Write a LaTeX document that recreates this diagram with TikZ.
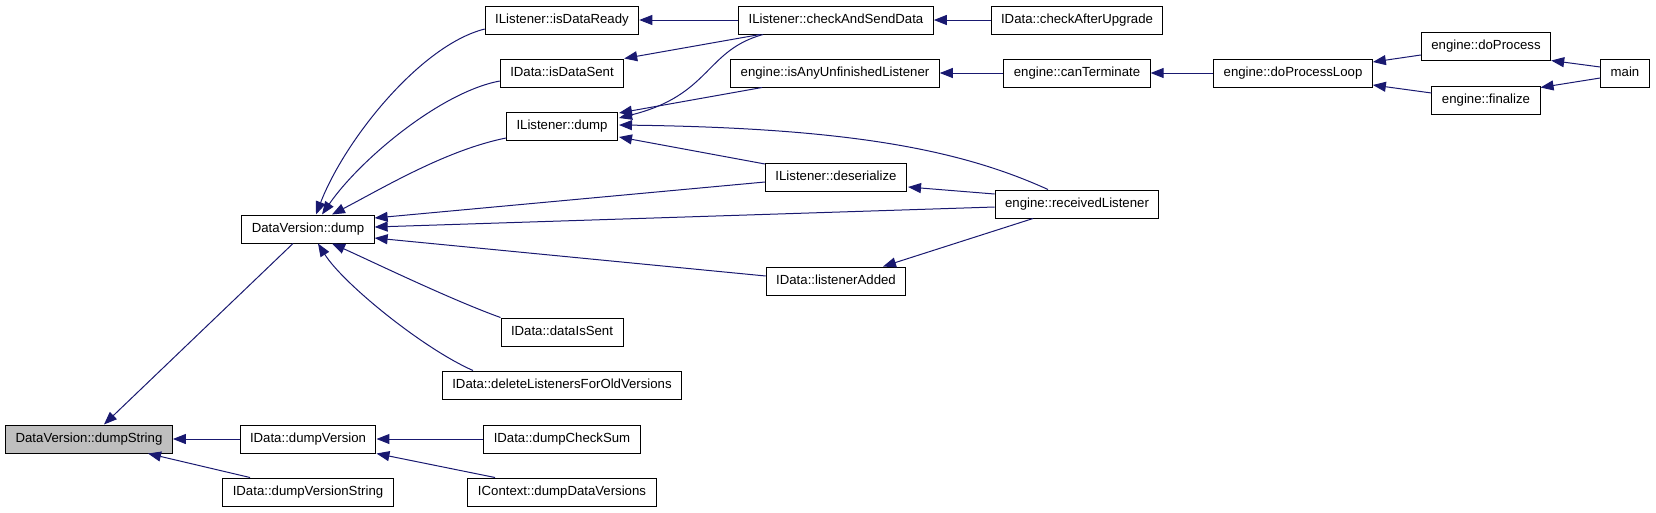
\documentclass[tikz,border=0pt]{standalone}
\usepackage{fontspec}
\setmainfont{Liberation Sans}
\usetikzlibrary{arrows.meta, calc}
\definecolor{edgeblue}{RGB}{25, 25, 112}
\definecolor{rootgray}{RGB}{191, 191, 191}

\begin{document}
\begin{tikzpicture}[
  x=1pt, y=-1pt,
  func/.style={draw=black, line width=1pt, fill=white, minimum height=28pt, inner xsep=10pt, inner ysep=0pt,
    text height=10pt, text depth=3pt, font=\fontsize{13.2}{16}\selectfont},
  root/.style={func, fill=rootgray},
  call/.style={draw=edgeblue, line width=1pt, -{Triangle[length=13pt, width=10pt]}}
]
  \useasboundingbox (0,0) rectangle (1656,512);

  % Callee
  \node[root] (dumpString) at (89,439) {DataVersion::dumpString};

  % Callers
  \node[func] (dvDump) at (308,229) {DataVersion::dump};
  \node[func] (dumpVersion) at (308,439) {IData::dumpVersion};
  \node[func] (dumpVerStr) at (308,492) {IData::dumpVersionString};

  \node[func] (isDataReady) at (562,20) {IListener::isDataReady};
  \node[func] (isDataSent) at (562,73) {IData::isDataSent};
  \node[func] (lDump) at (562,126) {IListener::dump};
  \node[func] (dataIsSent) at (562,332) {IData::dataIsSent};
  \node[func] (deleteOld) at (562,385) {IData::deleteListenersForOldVersions};
  \node[func] (checkSum) at (562,439) {IData::dumpCheckSum};
  \node[func] (ctxDump) at (562,492) {IContext::dumpDataVersions};

  \node[func] (checkSend) at (836,20) {IListener::checkAndSendData};
  \node[func] (unfinished) at (835,73) {engine::isAnyUnfinishedListener};
  \node[func] (deserialize) at (836,177) {IListener::deserialize};
  \node[func] (listenerAdded) at (836,281) {IData::listenerAdded};

  \node[func] (checkUpgrade) at (1077,20) {IData::checkAfterUpgrade};
  \node[func] (canTerminate) at (1077,73) {engine::canTerminate};
  \node[func] (recvListener) at (1077,204) {engine::receivedListener};

  \node[func] (procLoop) at (1293,73) {engine::doProcessLoop};
  \node[func] (doProcess) at (1486,46) {engine::doProcess};
  \node[func] (finalize) at (1486,100) {engine::finalize};
  \node[func] (main) at (1625,73) {main};

  % Calls into dumpString
  \draw[call] ($(dvDump.south)+(-15,0)$) -- ($(dumpString.north)+(15,0)$);
  \draw[call] (dumpVersion.west) -- (dumpString.east);
  \draw[call] ($(dumpVerStr.north)+(-58,0)$) -- ($(dumpString.south)+(59,0)$);

  % Calls into DataVersion::dump
  \draw[call] ($(isDataReady.west)+(0,9)$) .. controls +(-64,16) and +(29,-75) .. ($(dvDump.north)+(8,0)$);
  \draw[call] ($(isDataSent.west)+(0,8)$) .. controls +(-59,11) and +(38,-55) .. ($(dvDump.north)+(14,0)$);
  \draw[call] ($(lDump.west)+(0,12)$) .. controls +(-60,12) and +(50,-26) .. ($(dvDump.north)+(24,0)$);
  \draw[call] ($(deserialize.west)+(0,5)$) -- ($(dvDump.east)+(0,-11)$);
  \draw[call] ($(recvListener.west)+(0,3)$) -- ($(dvDump.east)+(0,-2)$);
  \draw[call] ($(listenerAdded.west)+(0,-5)$) -- ($(dvDump.east)+(0,9)$);
  \draw[call] (dataIsSent.north west) .. controls +(-50,-18) and +(40,18) .. ($(dvDump.south)+(24,0)$);
  \draw[call] ($(deleteOld.north)+(-89,0)$) .. controls +(-50,-22) and +(25,40) .. ($(dvDump.south)+(10,0)$);

  % Calls into dumpVersion
  \draw[call] (checkSum.west) -- (dumpVersion.east);
  \draw[call] ($(ctxDump.north)+(-67,0)$) -- (dumpVersion.south east);

  % Calls into the listener functions
  \draw[call] (checkSend.west) -- (isDataReady.east);
  \draw[call] ($(checkSend.south)+(-76,0)$) -- (isDataSent.north east);
  \draw[call] ($(checkSend.south)+(-73,0)$) .. controls +(-58,16) and +(92,-23) .. ($(lDump.east)+(1,-8)$);
  \draw[call] ($(unfinished.south)+(-73,0)$) -- ($(lDump.east)+(1,-13)$);
  \draw[call] ($(deserialize.west)+(0,-13)$) -- ($(lDump.east)+(1,11)$);
  \draw[call] ($(recvListener.north)+(-29,0)$) .. controls +(-88,-40) and +(230,3) .. ($(lDump.east)+(1,-1)$);
  \draw[call] ($(recvListener.west)+(0,-10)$) -- ($(deserialize.east)+(1,10)$);
  \draw[call] ($(recvListener.south)+(-44,0)$) -- ($(listenerAdded.north)+(47,0)$);

  % Engine chain
  \draw[call] (checkUpgrade.west) -- (checkSend.east);
  \draw[call] (canTerminate.west) -- (unfinished.east);
  \draw[call] (procLoop.west) -- (canTerminate.east);
  \draw[call] ($(doProcess.west)+(0,9)$) -- ($(procLoop.east)+(0,-11)$);
  \draw[call] ($(finalize.west)+(0,-7)$) -- ($(procLoop.east)+(0,12)$);
  \draw[call] ($(main.west)+(0,-6)$) -- (doProcess.south east);
  \draw[call] ($(main.west)+(0,5)$) -- ($(finalize.north east)+(0,2)$);
\end{tikzpicture}
\end{document}
